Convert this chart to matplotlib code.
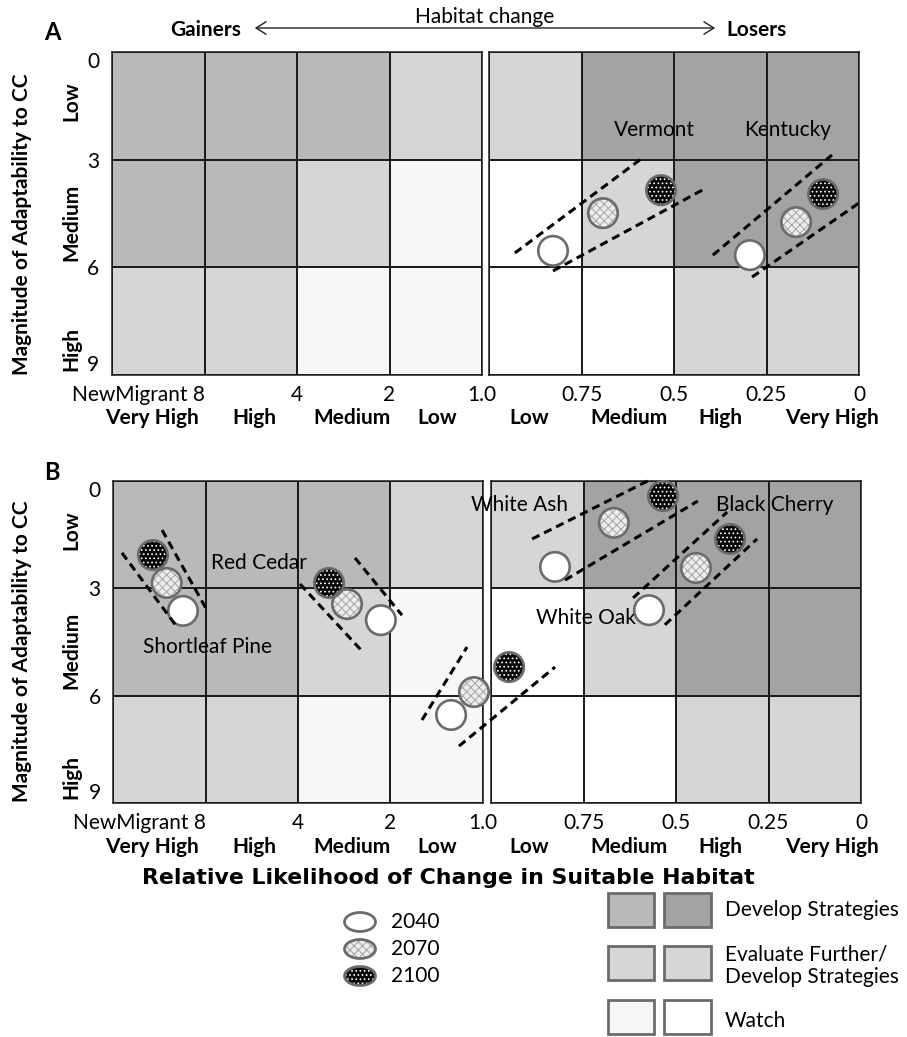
import matplotlib
matplotlib.use('Agg')
import matplotlib.pyplot as plt
import matplotlib.ticker as mticker
import numpy as np
from matplotlib.colors import ListedColormap
from matplotlib.patches import Ellipse, Rectangle, FancyArrowPatch
from matplotlib.lines import Line2D

plt.rcParams['font.family'] = ['Lato', 'DejaVu Sans']
plt.rcParams['hatch.linewidth'] = 0.7

W, H = 907, 1037

# ---------------- data ----------------
years = ['2040', '2070', '2100']
gain_edges = [16, 8, 4, 2, 1]            # ratio of future/current habitat (gainers)
loss_edges = [1.0, 0.75, 0.5, 0.25, 0.0]  # ratio of future/current habitat (losers)
adapt_edges = [0, 3, 6, 9]
gain_tick_labels = ['NewMigrant 8', '4', '2', '1.0']
loss_tick_labels = ['0.75', '0.5', '0.25', '0']
adapt_tick_labels = ['0', '3', '6', '9']
gain_classes = ['Very High', 'High', 'Medium', 'Low']
loss_classes = ['Low', 'Medium', 'High', 'Very High']
adapt_classes = ['Low', 'Medium', 'High']

# zone codes: 0 watch (loser), 1 watch (gainer), 2 evaluate, 3 develop (gainer), 4 develop (loser)
gain_zones = [[3, 3, 3, 2], [3, 3, 2, 1], [2, 2, 1, 1]]
loss_zones = [[2, 4, 4, 4], [0, 2, 4, 4], [0, 0, 2, 2]]
zone_colors = ['#ffffff', '#f7f7f7', '#d6d6d6', '#b9b9b9', '#a3a3a3']
legend_labels = ['Develop Strategies', 'Evaluate Further/\nDevelop Strategies', 'Watch']

# Panel A (2040, 2070, 2100)
vermont_ratio = [0.827, 0.692, 0.535]
vermont_adapt = [5.54, 4.49, 3.85]
vermont_env1_ratio = [0.930, 0.589]
vermont_env1_adapt = [5.60, 2.98]
vermont_env2_ratio = [0.827, 0.424]
vermont_env2_adapt = [6.10, 3.85]

kentucky_ratio = [0.295, 0.170, 0.097]
kentucky_adapt = [5.66, 4.74, 3.96]
kentucky_env1_ratio = [0.395, 0.073]
kentucky_env1_adapt = [5.66, 2.87]
kentucky_env2_ratio = [0.289, -0.008]
kentucky_env2_adapt = [6.27, 4.15]

# Panel B
shortleaf_ratio = [9.47, 10.7, 11.86]
shortleaf_adapt = [3.63, 2.85, 2.07]
shortleaf_env1_ratio = [14.96, 9.90]
shortleaf_env1_adapt = [2.01, 4.08]
shortleaf_env2_ratio = [11.08, 7.85]
shortleaf_env2_adapt = [1.37, 3.66]

redcedar_ratio = [2.15, 2.77, 3.17]
redcedar_adapt = [3.89, 3.44, 2.85]
redcedar_env1_ratio = [3.94, 2.46]
redcedar_env1_adapt = [2.88, 4.78]
redcedar_env2_ratio = [2.61, 1.835]
redcedar_env2_adapt = [2.15, 3.75]

middle_ratio = [1.27, 1.07, 0.951]
middle_adapt = [6.54, 5.90, 5.20]
middle_env1_ratio = [1.58, 1.127]
middle_env1_adapt = [6.68, 4.64]
middle_env2_ratio = [1.197, 0.827]
middle_env2_adapt = [7.41, 5.20]

whiteash_ratio = [0.827, 0.668, 0.535]
whiteash_adapt = [2.40, 1.17, 0.42]
whiteash_env1_ratio = [0.889, 0.565]
whiteash_env1_adapt = [1.62, -0.06]
whiteash_env2_ratio = [0.800, 0.441]
whiteash_env2_adapt = [2.77, 0.56]

blackcherry_ratio = [0.573, 0.446, 0.354]
blackcherry_adapt = [3.61, 2.43, 1.62]
blackcherry_env1_ratio = [0.616, 0.362]
blackcherry_env1_adapt = [3.27, 0.87]
blackcherry_env2_ratio = [0.530, 0.281]
blackcherry_env2_adapt = [4.02, 1.62]

labels_a_text = ['Vermont', 'Kentucky']
labels_a_ratio = [0.554, 0.192]
labels_a_adapt = [2.17, 2.17]
labels_b_text = ['Red Cedar', 'Shortleaf Pine', 'White Ash', 'Black Cherry', 'White Oak']
labels_b_ratio = [5.35, 7.9, 0.922, 0.232, 0.743]
labels_b_adapt = [2.29, 4.64, 0.67, 0.67, 3.83]

# ---------------- figure ----------------
fig = plt.figure(figsize=(W / 100, H / 100), dpi=100)
zone_cmap = ListedColormap(zone_colors)
GRID = '#1c1c1c'
EDGE = '#6b6b6b'
FS = 15


def px_box(x0, y0, x1, y1):
    return [x0 / W, 1 - y1 / H, (x1 - x0) / W, (y1 - y0) / H]


def fx(x):
    return x / W


def fy(y):
    return 1 - y / H


def make_panel(gbox, lbox):
    axg = fig.add_axes(px_box(*gbox))
    axl = fig.add_axes(px_box(*lbox))
    axg.set_xscale('log', base=2)
    axg.pcolormesh(gain_edges, adapt_edges, np.array(gain_zones), cmap=zone_cmap,
                   vmin=-0.5, vmax=4.5, edgecolors=GRID, linewidth=1.1)
    axg.set_xlim(16, 1)
    axg.set_ylim(9, 0)
    axg.xaxis.set_minor_locator(mticker.NullLocator())
    axg.set_xticks(gain_edges[1:], gain_tick_labels)
    axg.set_yticks(adapt_edges, adapt_tick_labels)
    axl.pcolormesh(loss_edges, adapt_edges, np.array(loss_zones), cmap=zone_cmap,
                   vmin=-0.5, vmax=4.5, edgecolors=GRID, linewidth=1.1)
    axl.set_xlim(1, 0)
    axl.set_ylim(9, 0)
    axl.set_xticks(loss_edges[1:], loss_tick_labels)
    axl.set_yticks([])
    for ax in (axg, axl):
        ax.tick_params(length=0, labelsize=FS, pad=7)
        ax.tick_params(axis='y', pad=9)
        for s in ax.spines.values():
            s.set_color(GRID)
            s.set_linewidth(1.1)
    axg.get_xticklabels()[0].set_ha('right')
    ylabs = axg.get_yticklabels()
    ylabs[0].set_va('top')
    ylabs[-1].set_va('bottom')
    return {'gain': axg, 'loss': axl}


panel_a = make_panel((112, 52, 482, 375), (489, 52, 859, 375))
panel_b = make_panel((113, 481, 483, 803), (491, 481, 861, 803))


def axis_for(panel, r):
    return panel['gain'] if r >= 1 else panel['loss']


S = 450
base_cols = ['white', '#ededed', '#080808']
hatch_cols = [None, '#a5a5a5', 'white']
hatches = [None, 'xxxx', '....']


def draw_group(panel, ratios, adapts):
    for i, (r, a) in enumerate(zip(ratios, adapts)):
        ax = axis_for(panel, r)
        ax.scatter([r], [a], s=S, c=base_cols[i], linewidths=0, zorder=4, clip_on=False)
        if hatches[i]:
            ax.scatter([r], [a], s=S, facecolors='none', edgecolors=hatch_cols[i],
                       hatch=hatches[i], linewidths=0, zorder=4.1, clip_on=False)
        ax.scatter([r], [a], s=S, facecolors='none', edgecolors=EDGE, linewidths=1.9,
                   zorder=4.2, clip_on=False)


def draw_env(panel, ratios, adapts):
    inv = fig.transFigure.inverted()
    pts = [inv.transform(axis_for(panel, r).transData.transform((r, a)))
           for r, a in zip(ratios, adapts)]
    fig.add_artist(Line2D([p[0] for p in pts], [p[1] for p in pts], transform=fig.transFigure,
                          color='black', lw=2.2, dashes=(2.7, 1.7), zorder=5))


for grp in [(vermont_ratio, vermont_adapt), (kentucky_ratio, kentucky_adapt)]:
    draw_group(panel_a, *grp)
for env in [(vermont_env1_ratio, vermont_env1_adapt), (vermont_env2_ratio, vermont_env2_adapt),
            (kentucky_env1_ratio, kentucky_env1_adapt), (kentucky_env2_ratio, kentucky_env2_adapt)]:
    draw_env(panel_a, *env)

for grp in [(shortleaf_ratio, shortleaf_adapt), (redcedar_ratio, redcedar_adapt),
            (middle_ratio, middle_adapt), (whiteash_ratio, whiteash_adapt),
            (blackcherry_ratio, blackcherry_adapt)]:
    draw_group(panel_b, *grp)
for env in [(shortleaf_env1_ratio, shortleaf_env1_adapt), (shortleaf_env2_ratio, shortleaf_env2_adapt),
            (redcedar_env1_ratio, redcedar_env1_adapt), (redcedar_env2_ratio, redcedar_env2_adapt),
            (middle_env1_ratio, middle_env1_adapt), (middle_env2_ratio, middle_env2_adapt),
            (whiteash_env1_ratio, whiteash_env1_adapt), (whiteash_env2_ratio, whiteash_env2_adapt),
            (blackcherry_env1_ratio, blackcherry_env1_adapt), (blackcherry_env2_ratio, blackcherry_env2_adapt)]:
    draw_env(panel_b, *env)

for panel, texts, rs, ads in [(panel_a, labels_a_text, labels_a_ratio, labels_a_adapt),
                              (panel_b, labels_b_text, labels_b_ratio, labels_b_adapt)]:
    for t, r, a in zip(texts, rs, ads):
        axis_for(panel, r).text(r, a, t, ha='center', va='center', fontsize=FS,
                                zorder=3, clip_on=False)

# ---------------- annotations ----------------
fig.text(fx(52), fy(33), 'A', fontsize=17, fontweight='bold', ha='center', va='center')
fig.text(fx(52), fy(473), 'B', fontsize=17, fontweight='bold', ha='center', va='center')
fig.text(fx(206), fy(30), 'Gainers', fontsize=FS, fontweight='bold', ha='center', va='center')
fig.text(fx(756), fy(30), 'Losers', fontsize=FS, fontweight='bold', ha='center', va='center')
fig.text(fx(485), fy(17), 'Habitat change', fontsize=FS, ha='center', va='center')
fig.add_artist(FancyArrowPatch((fx(252), fy(28)), (fx(718), fy(28)), transform=fig.transFigure,
                               arrowstyle='<->,head_length=0.45,head_width=0.28',
                               mutation_scale=16, lw=1.0, color='#222222'))

for yc in (224, 651):
    fig.text(fx(22), fy(yc), 'Magnitude of Adaptability to CC', fontsize=FS, fontweight='bold',
             rotation=90, ha='center', va='center')
for ys in ((101, 222, 349), (530, 650, 777)):
    for lab, yc in zip(adapt_classes, ys):
        fig.text(fx(71), fy(yc), lab, fontsize=FS, fontweight='bold', rotation=90,
                 ha='center', va='center')

gain_class_x = [152, 254, 352, 437]
loss_class_x = [527, 627, 718, 830]
for yc in (418, 847):
    for lab, xc in zip(gain_classes, gain_class_x):
        fig.text(fx(xc), fy(yc), lab, fontsize=FS, fontweight='bold', ha='center', va='center')
    for lab, xc in zip(loss_classes, loss_class_x):
        fig.text(fx(xc + 2), fy(yc), lab, fontsize=FS, fontweight='bold', ha='center', va='center')

fig.text(fx(448), fy(878), 'Relative Likelihood of Change in Suitable Habitat', fontsize=15.8,
         fontweight='bold', family=['DejaVu Sans'], ha='center', va='center')

# ---------------- legend ----------------
lax = fig.add_axes([0, 0, 1, 1])
lax.set_xlim(0, W)
lax.set_ylim(H, 0)
lax.axis('off')
lax.patch.set_visible(False)
for i, (yr, yc) in enumerate(zip(years, (922, 949, 976))):
    lax.add_patch(Ellipse((360, yc), 31, 19, facecolor=base_cols[i], edgecolor='none', lw=0))
    if hatches[i]:
        lax.add_patch(Ellipse((360, yc), 31, 19, facecolor='none', edgecolor=hatch_cols[i],
                              hatch=hatches[i], lw=0))
    lax.add_patch(Ellipse((360, yc), 31, 19, facecolor='none', edgecolor=EDGE, lw=2.0))
    lax.text(391, yc, yr, fontsize=FS, ha='left', va='center')

legend_pairs = [(3, 4), (2, 2), (1, 0)]
legend_rows = [(893, 927, 910), (946, 980, 966), (1000, 1034, 1021)]
for (c1, c2), (y0, y1, yt), lab in zip(legend_pairs, legend_rows, legend_labels):
    lax.add_patch(Rectangle((608, y0), 46, y1 - y0, facecolor=zone_colors[c1], edgecolor=EDGE, lw=2.0))
    lax.add_patch(Rectangle((664, y0), 47, y1 - y0, facecolor=zone_colors[c2], edgecolor=EDGE, lw=2.0))
    lax.text(725, yt, lab, fontsize=FS, ha='left', va='center', linespacing=1.15)

fig.savefig('out.png', dpi=100)
